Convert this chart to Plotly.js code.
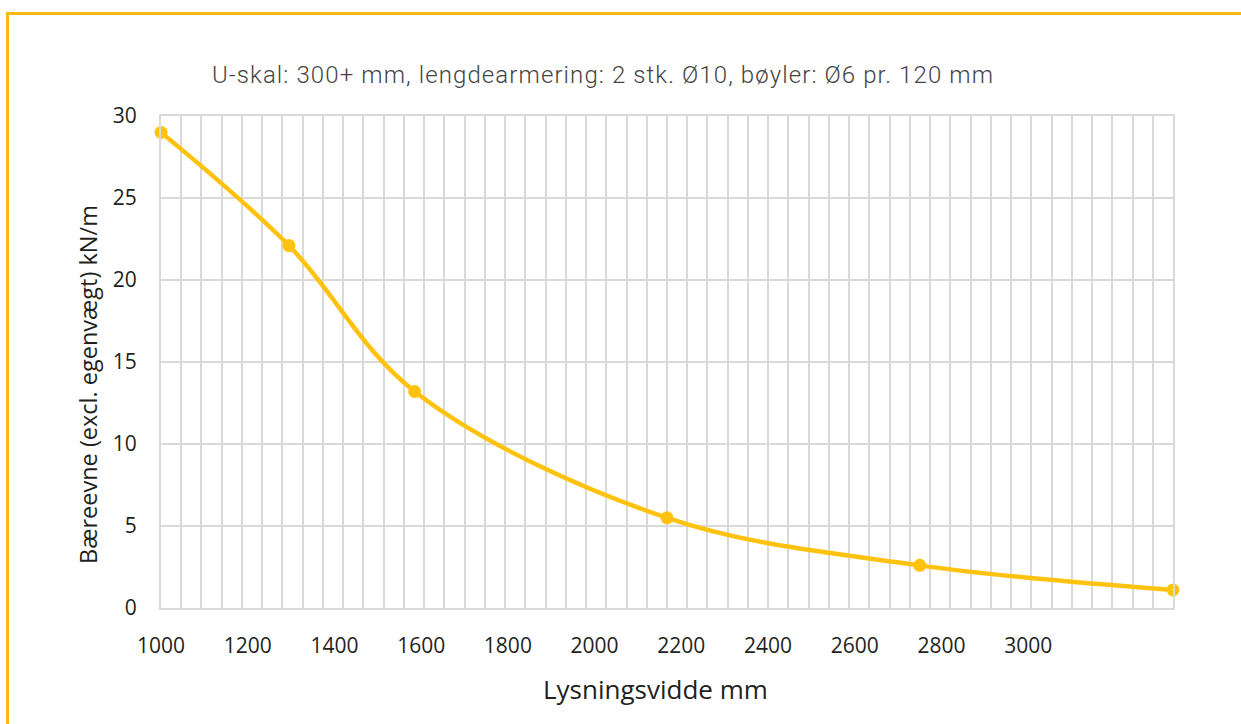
<!DOCTYPE html>
<html>
<head>
<meta charset="utf-8">
<script src="https://cdn.plot.ly/plotly-3.0.1.min.js"></script>
<style>
  html, body { margin: 0; padding: 0; background: #fff; }
  #wrap { position: relative; width: 1241px; height: 724px; overflow: hidden; }
  #chart { position: absolute; left: 0; top: 0; width: 1241px; height: 724px; }
  #frame { position: absolute; left: 6px; top: 12px; width: 1240px; height: 720px;
           border-top: 3px solid #FDB913; border-left: 3px solid #FDB913; pointer-events: none; }
  #chart .gtitle { letter-spacing: 1.1px; }
</style>
</head>
<body>
<div id="wrap">
  <div id="chart"></div>
  <div id="frame"></div>
</div>
<script>
// Data
const spanMm = [1000, 1295, 1585, 2167, 2750, 3334];
const loadKNm = [29.0, 22.1, 13.2, 5.5, 2.6, 1.1];
const xTickVals = [1000, 1200, 1400, 1600, 1800, 2000, 2200, 2400, 2600, 2800, 3000];
const xTickText = ['1000', '1200', '1400', '1600', '1800', '2000', '2200', '2400', '2600', '2800', '3000'];
const yTickVals = [0, 5, 10, 15, 20, 25, 30];

const chartTitle = 'U-skal: 300+ mm, lengdearmering: 2 stk. Ø10, bøyler: Ø6 pr. 120 mm';
const xTitle = 'Lysningsvidde mm';
const yTitle = 'Bæreevne (excl. egenvægt) kN/m';

const xMin = 1000, xMax = 3334, nGrid = 50;
const gridColor = '#D9D9D9';
const lineColor = '#FFC20E';
const textColor = '#231F20';

const trace = {
  x: spanMm,
  y: loadKNm,
  type: 'scatter',
  mode: 'lines+markers',
  cliponaxis: false,
  line: { color: lineColor, width: 4.5, shape: 'spline', smoothing: 1 },
  marker: { color: lineColor, size: 13 },
  hoverinfo: 'x+y'
};

const layout = {
  width: 1241,
  height: 724,
  margin: { l: 161, r: 68, t: 116, b: 116 },
  paper_bgcolor: '#ffffff',
  plot_bgcolor: '#ffffff',
  showlegend: false,
  font: { family: 'Open Sans, sans-serif', color: textColor },
  title: {
    text: chartTitle,
    font: { family: 'Roboto Light, Lato Light, Roboto, sans-serif', size: 24, weight: 300, color: '#444444' },
    x: 603 / 1241, xanchor: 'center', xref: 'container',
    y: 1 - 75 / 724, yanchor: 'middle', yref: 'container'
  },
  xaxis: {
    range: [xMin, xMax],
    tickmode: 'array',
    tickvals: xTickVals,
    ticktext: xTickText,
    ticks: '',
    showgrid: false,
    zeroline: false,
    showline: true, mirror: true, linecolor: gridColor, linewidth: 2,
    tickfont: { size: 21, color: textColor },
    ticklabelstandoff: 18,
    minor: { tick0: xMin, dtick: (xMax - xMin) / nGrid, showgrid: true, gridcolor: gridColor, gridwidth: 2, ticks: '' },
    fixedrange: true
  },
  yaxis: {
    range: [0, 30],
    tickmode: 'array',
    tickvals: yTickVals,
    ticks: '',
    showgrid: true, gridcolor: gridColor, gridwidth: 2,
    zeroline: false,
    showline: true, mirror: true, linecolor: gridColor, linewidth: 2,
    tickfont: { size: 21, color: textColor },
    ticklabelstandoff: 18,
    fixedrange: true
  },
  annotations: [{
    text: yTitle,
    textangle: -90,
    showarrow: false,
    xref: 'paper', yref: 'paper',
    x: (88 - 161) / 1012, y: (608 - 385) / 492,
    xanchor: 'center', yanchor: 'middle',
    font: { family: 'Open Sans, sans-serif', size: 23.5, color: textColor }
  }, {
    text: xTitle,
    showarrow: false,
    xref: 'paper', yref: 'paper',
    x: (655 - 161) / 1012, y: (608 - 689) / 492,
    xanchor: 'center', yanchor: 'middle',
    font: { family: 'Open Sans, sans-serif', size: 26, color: textColor }
  }]
};

Plotly.newPlot('chart', [trace], layout, { displayModeBar: false, staticPlot: true });
</script>
</body>
</html>
